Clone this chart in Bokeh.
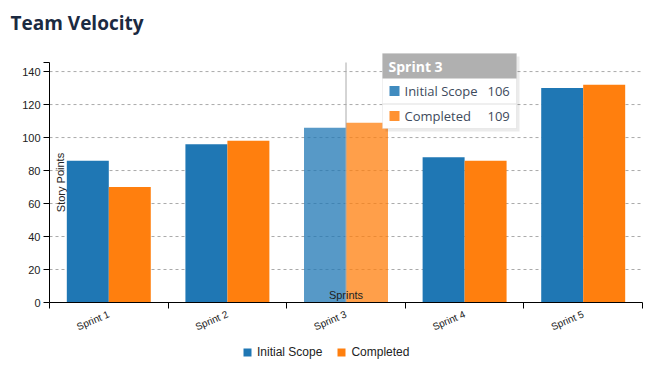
from bokeh.plotting import figure
from bokeh.models import (ColumnDataSource, Range1d, FixedTicker, Legend, LegendItem,
                          Label, BoxAnnotation)
from bokeh.embed import file_html
from bokeh.resources import INLINE

# ---- data ----
sprints = ["Sprint 1", "Sprint 2", "Sprint 3", "Sprint 4", "Sprint 5"]
initial_scope = [86, 96, 106, 88, 130]
completed = [70, 98, 109, 86, 132]
y_ticks = [0, 20, 40, 60, 80, 100, 120, 140]
series_names = ["Initial Scope", "Completed"]
colors = ["#1f77b4", "#ff7f0e"]
hovered = 2  # Sprint 3 is highlighted with a tooltip

n = len(sprints)
y_max = 145.5
centers = [i + 0.5 for i in range(n)]
bw = 0.354
alphas = [0.75 if i == hovered else 1.0 for i in range(n)]

# ---- layout (pixels) ----
W, Hgt = 656, 388
AX_L, AX_R, AX_T, AX_B = 49, 642, 62, 302   # plotting area of the axes
kx = (AX_R - AX_L) / n
ky = (AX_B - AX_T) / y_max

def dx(px):
    return (px - AX_L) / kx

def dy(py):
    return (AX_B - py) / ky

src = ColumnDataSource(dict(
    xa=[c - bw / 2 for c in centers],
    xb=[c + bw / 2 for c in centers],
    a=initial_scope, b=completed, alpha=alphas,
))

p = figure(width=W, height=Hgt, output_backend="svg", toolbar_location=None,
           x_range=Range1d(dx(0), dx(W)), y_range=Range1d(dy(Hgt), dy(0)),
           min_border_left=0, min_border_right=0, min_border_top=0,
           min_border_bottom=0)
p.outline_line_color = None
p.background_fill_color = "white"
p.border_fill_color = "white"
p.xgrid.grid_line_color = None
p.ygrid.grid_line_color = None

# horizontal dashed grid lines, limited to the axes area
grid_y = y_ticks[1:]
p.segment(x0=[0] * len(grid_y), y0=grid_y, x1=[n] * len(grid_y), y1=grid_y,
          line_color="#aaaaaa", line_dash="3 3", line_width=1)

r1 = p.vbar(x="xa", top="a", width=bw, source=src, fill_color=colors[0],
            fill_alpha="alpha", line_color=None)
r2 = p.vbar(x="xb", top="b", width=bw, source=src, fill_color=colors[1],
            fill_alpha="alpha", line_color=None)

# axes
xa = p.xaxis[0]
xa.fixed_location = 0
xa.bounds = (0, n)
xa.ticker = FixedTicker(ticks=centers, minor_ticks=list(range(n + 1)))
xa.major_label_overrides = {c: s for c, s in zip(centers, sprints)}
xa.major_tick_out = 0
xa.major_tick_in = 0
xa.minor_tick_out = 6
xa.minor_tick_in = 0
xa.minor_tick_line_color = "black"
xa.axis_line_color = "black"
xa.major_label_orientation = 0.41
xa.major_label_text_font = "Liberation Sans"
xa.major_label_text_font_size = "10px"
xa.major_label_text_color = "#222222"
xa.major_label_standoff = 5

ya = p.yaxis[0]
ya.fixed_location = 0
ya.bounds = (0, y_max)
ya.ticker = FixedTicker(ticks=y_ticks, minor_ticks=[y_max])
ya.major_tick_out = 6
ya.major_tick_in = 0
ya.minor_tick_out = 6
ya.minor_tick_in = 0
ya.minor_tick_line_color = "black"
ya.major_tick_line_color = "black"
ya.axis_line_color = "black"
ya.major_label_text_font = "Liberation Sans"
ya.major_label_text_font_size = "11px"
ya.major_label_text_color = "#222222"
ya.major_label_standoff = 3

# title
p.add_layout(Label(x=dx(10), y=dy(22), text="Team Velocity", text_baseline="middle",
                   text_font="Open Sans", text_font_size="19px", text_font_style="bold",
                   text_color="#1b2a41"))

# inner axis labels
p.add_layout(Label(x=dx(60), y=y_max / 2, text="Story Points", angle=1.5708,
                   text_align="center", text_baseline="middle",
                   text_font="Liberation Sans", text_font_size="11px",
                   text_color="#222222"))
p.add_layout(Label(x=n / 2, y=0, y_offset=2, text="Sprints",
                   text_align="center", text_baseline="bottom",
                   text_font="Liberation Sans", text_font_size="11px",
                   text_color="#222222"))

# legend (inside the full-canvas frame, under the x axis)
legend = Legend(items=[LegendItem(label=series_names[0], renderers=[r1], index=0),
                       LegendItem(label=series_names[1], renderers=[r2], index=0)],
                orientation="horizontal", location=(242, Hgt - 359),
                border_line_color=None, background_fill_alpha=0,
                label_text_font="Liberation Sans", label_text_font_size="12px",
                label_text_color="#222222", glyph_width=10, glyph_height=10,
                label_standoff=5, spacing=14, padding=0, margin=0)
p.add_layout(legend)

# ---- hover state (tooltip for Sprint 3) ----
p.segment(x0=[centers[hovered]], y0=[0], x1=[centers[hovered]], y1=[y_max],
          line_color="#aaaaaa", line_width=1)

L, R, T, H, M, B, D = 382, 516, 53, 78, 103, 128, 482
p.add_layout(BoxAnnotation(left=dx(L + 3), right=dx(R + 3), top=dy(T + 3), bottom=dy(B + 3),
                           fill_color="#000000", fill_alpha=0.08, line_color=None))
p.add_layout(BoxAnnotation(left=dx(L), right=dx(R), top=dy(T), bottom=dy(B),
                           fill_color="white", fill_alpha=1, line_color="#cccccc",
                           line_width=1))
p.add_layout(BoxAnnotation(left=dx(L), right=dx(R), top=dy(T), bottom=dy(H),
                           fill_color="#b0b0b0", fill_alpha=1, line_color=None))
p.add_layout(BoxAnnotation(left=dx(L), right=dx(R), top=dy(M), bottom=dy(M + 1),
                           fill_color="#e0e0e0", fill_alpha=1, line_color=None))
p.segment(x0=[dx(D)], y0=[dy(H)], x1=[dx(D)], y1=[dy(B)], line_color="#aaaaaa",
          line_dash="1 2", line_width=1)

p.add_layout(Label(x=dx(L + 6), y=dy((T + H) / 2), text=sprints[hovered],
                   text_baseline="middle", text_font="Open Sans",
                   text_font_size="14px", text_font_style="bold", text_color="white"))
rows = [(series_names[0], initial_scope[hovered], colors[0], (H + M) / 2),
        (series_names[1], completed[hovered], colors[1], (M + B) / 2)]
for name, val, col, cy in rows:
    p.add_layout(BoxAnnotation(left=dx(L + 7), right=dx(L + 17), top=dy(cy - 5),
                               bottom=dy(cy + 5), fill_color=col, fill_alpha=0.85,
                               line_color=None))
    p.add_layout(Label(x=dx(L + 22), y=dy(cy), text=name, text_baseline="middle",
                       text_font="Open Sans", text_font_size="13px",
                       text_color="#3e4a5c"))
    p.add_layout(Label(x=dx(D + 5), y=dy(cy), text=str(val), text_baseline="middle",
                       text_font="Open Sans", text_font_size="13px",
                       text_color="#3e4a5c"))

open("out.html", "w").write(file_html(p, INLINE))
